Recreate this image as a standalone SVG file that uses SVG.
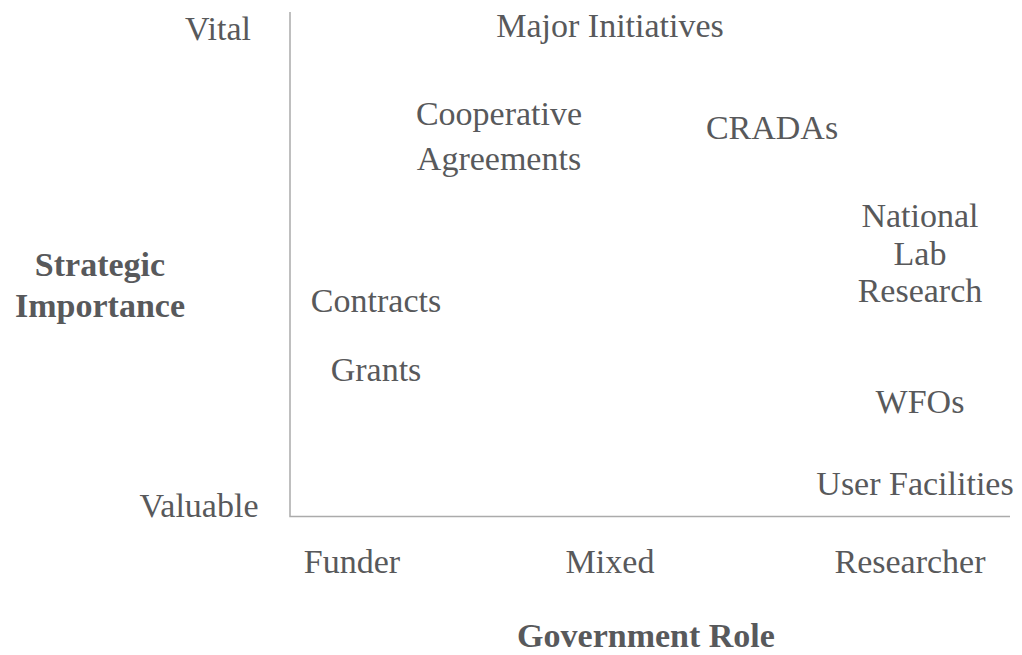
<svg xmlns="http://www.w3.org/2000/svg" width="1022" height="655" viewBox="0 0 1022 655">
<style>
text{font-family:"Liberation Serif","Times New Roman",serif;font-size:34px;fill:#58595b}
.b{font-weight:bold}
.m{text-anchor:middle}
.axis{stroke:#ababab;stroke-width:1.5;fill:none}
</style>
<rect width="1022" height="655" fill="#ffffff"/>
<g id="axes">
<path class="axis" d="M290 12 V516.5 H1010"/>
</g>
<g id="y-labels">
<text x="218" y="40" class="m">Vital</text>
<text x="199" y="517" class="m">Valuable</text>
<text x="100" y="276" class="m b">Strategic</text>
<text x="100" y="317" class="m b">Importance</text>
</g>
<g id="x-labels">
<text x="352" y="573" class="m">Funder</text>
<text x="610" y="573" class="m">Mixed</text>
<text x="910" y="573" class="m">Researcher</text>
<text x="646" y="647" class="m b">Government Role</text>
</g>
<g id="node-major"><text x="610" y="37" class="m">Major Initiatives</text></g>
<g id="node-coop"><text x="499" y="125" class="m">Cooperative</text><text x="499" y="170" class="m">Agreements</text></g>
<g id="node-cradas"><text x="772" y="139" class="m">CRADAs</text></g>
<g id="node-natlab"><text x="920" y="227" class="m">National</text><text x="920" y="265" class="m">Lab</text><text x="920" y="302" class="m">Research</text></g>
<g id="node-contracts"><text x="376" y="312" class="m">Contracts</text></g>
<g id="node-grants"><text x="376" y="381" class="m">Grants</text></g>
<g id="node-wfos"><text x="920" y="413" class="m">WFOs</text></g>
<g id="node-user"><text x="915" y="495" class="m">User Facilities</text></g>
<g id="connectors"></g>
</svg>
